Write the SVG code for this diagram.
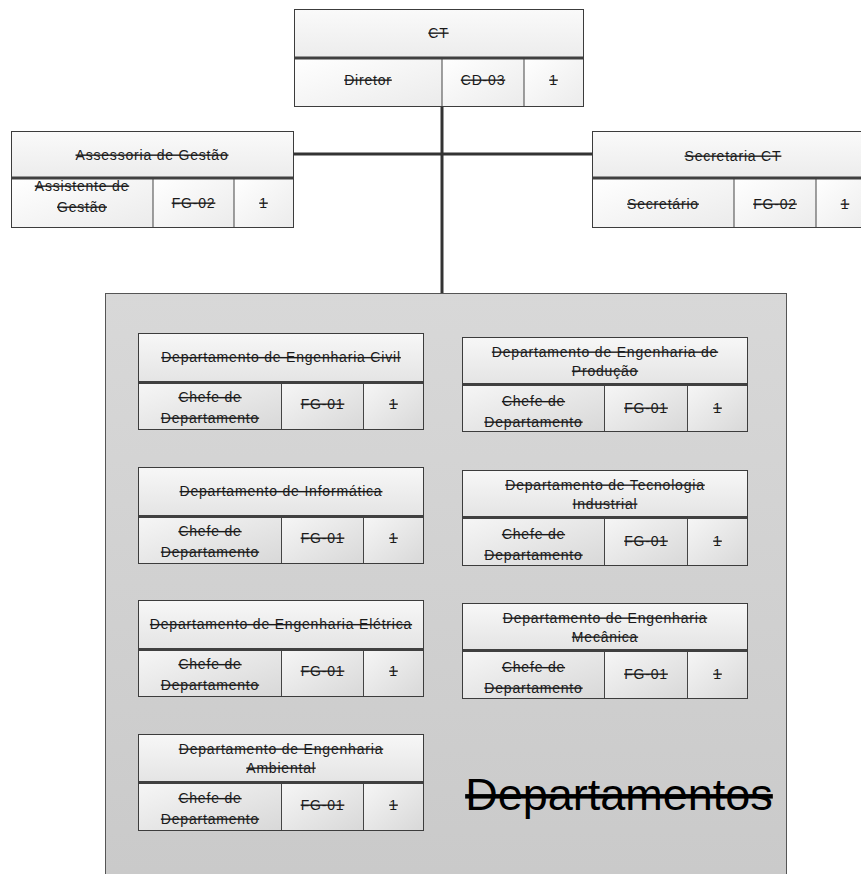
<svg xmlns="http://www.w3.org/2000/svg" width="861" height="874" viewBox="0 0 861 874">
<defs>
<linearGradient id="gCont" x1="0" y1="0" x2="0" y2="1"><stop offset="0" stop-color="#d8d8d8"/><stop offset="1" stop-color="#c9c9c9"/></linearGradient>
<linearGradient id="gHdr" x1="0" y1="0" x2="0" y2="1"><stop offset="0" stop-color="#f7f7f7"/><stop offset="1" stop-color="#e4e4e4"/></linearGradient>
<linearGradient id="gHdrTop" x1="0" y1="0" x2="0" y2="1"><stop offset="0" stop-color="#fafafa"/><stop offset="1" stop-color="#ececec"/></linearGradient>
<linearGradient id="gCell" x1="0" y1="0" x2="1" y2="1"><stop offset="0" stop-color="#f6f6f6"/><stop offset="1" stop-color="#d8d8d8"/></linearGradient>
<linearGradient id="gCellTop" x1="0" y1="0" x2="1" y2="1"><stop offset="0" stop-color="#ffffff"/><stop offset="1" stop-color="#ebebeb"/></linearGradient>
</defs>
<style>
.cont{fill:url(#gCont);stroke:#555;stroke-width:1}
.hdr{fill:url(#gHdr);stroke:none}
.hdrT{fill:url(#gHdrTop);stroke:none}
.cell{fill:url(#gCell);stroke:none}
.cellT{fill:url(#gCellTop);stroke:none}
.frame{fill:none;stroke:#3c3c3c;stroke-width:1}
.div{stroke:#404040;stroke-width:3}
.col{stroke:#444;stroke-width:1}
.conn{stroke:#333;stroke-width:3;fill:none}
.t{font-family:"Liberation Sans",Arial,Helvetica,sans-serif;font-size:14px;letter-spacing:0.8px;fill:#1a1a1a;text-anchor:middle;text-decoration:line-through}
.big{font-family:"Liberation Sans",Arial,Helvetica,sans-serif;font-size:45px;fill:#000;text-anchor:middle;text-decoration:line-through}
</style>

<g id="connectors">
<line class="conn" x1="442" y1="106" x2="442" y2="294"/>
<line class="conn" x1="293" y1="154" x2="593" y2="154"/>
</g>

<g id="departamentos">
<rect class="cont" x="105.5" y="293.5" width="681" height="620"/>
<text class="big" x="619" y="810">Departamentos</text>
</g>

<g id="ct">
<rect class="hdrT" x="294.5" y="9.5" width="289" height="49"/>
<rect class="cellT" x="294.5" y="58" width="147.5" height="48.5"/>
<rect class="cellT" x="442" y="58" width="82" height="48.5"/>
<rect class="cellT" x="524" y="58" width="59.5" height="48.5"/>
<line class="col" x1="442" y1="58" x2="442" y2="106.5"/>
<line class="col" x1="524" y1="58" x2="524" y2="106.5"/>
<line class="div" x1="294.5" y1="58" x2="583.5" y2="58"/>
<rect class="frame" x="294.5" y="9.5" width="289" height="97"/>
<text class="t" x="438.5" y="37.5">CT</text>
<text class="t" x="368" y="84.5">Diretor</text>
<text class="t" x="483" y="84.5">CD-03</text>
<text class="t" x="553.5" y="84.5">1</text>
</g>

<g id="assessoria">
<rect class="hdrT" x="11.5" y="131.5" width="282" height="47"/>
<rect class="cellT" x="11.5" y="178" width="141.5" height="49.5"/>
<rect class="cellT" x="153" y="178" width="81" height="49.5"/>
<rect class="cellT" x="234" y="178" width="59.5" height="49.5"/>
<line class="col" x1="153" y1="178" x2="153" y2="227.5"/>
<line class="col" x1="234" y1="178" x2="234" y2="227.5"/>
<line class="div" x1="11.5" y1="178" x2="293.5" y2="178"/>
<rect class="frame" x="11.5" y="131.5" width="282" height="96"/>
<text class="t" x="152" y="159.5">Assessoria de Gestão</text>
<text class="t" x="82" y="190.5">Assistente de</text>
<text class="t" x="82" y="211.5">Gestão</text>
<text class="t" x="193.5" y="207.5">FG-02</text>
<text class="t" x="263.5" y="207.5">1</text>
</g>

<g id="secretaria">
<rect class="hdrT" x="592.5" y="131.5" width="282" height="47"/>
<rect class="cellT" x="592.5" y="178" width="141.5" height="49.5"/>
<rect class="cellT" x="734" y="178" width="82" height="49.5"/>
<rect class="cellT" x="816" y="178" width="58.5" height="49.5"/>
<line class="col" x1="734" y1="178" x2="734" y2="227.5"/>
<line class="col" x1="816" y1="178" x2="816" y2="227.5"/>
<line class="div" x1="592.5" y1="178" x2="874.5" y2="178"/>
<rect class="frame" x="592.5" y="131.5" width="282" height="96"/>
<text class="t" x="733" y="160.5">Secretaria CT</text>
<text class="t" x="663" y="208.5">Secretário</text>
<text class="t" x="775" y="208.5">FG-02</text>
<text class="t" x="845" y="208.5">1</text>
</g>

<g id="civil">
<rect class="hdr" x="138.5" y="333.5" width="285" height="49"/>
<rect class="cell" x="138.5" y="382.5" width="143" height="47"/>
<rect class="cell" x="281.5" y="382.5" width="82" height="47"/>
<rect class="cell" x="363.5" y="382.5" width="60" height="47"/>
<line class="col" x1="281.5" y1="382.5" x2="281.5" y2="429.5"/>
<line class="col" x1="363.5" y1="382.5" x2="363.5" y2="429.5"/>
<line class="div" x1="138.5" y1="382.5" x2="423.5" y2="382.5"/>
<rect class="frame" x="138.5" y="333.5" width="285" height="96"/>
<text class="t" x="281" y="362">Departamento de Engenharia Civil</text>
<text class="t" x="210" y="402">Chefe de</text>
<text class="t" x="210" y="422.5">Departamento</text>
<text class="t" x="322.5" y="408.5">FG-01</text>
<text class="t" x="393.5" y="408.5">1</text>
</g>

<g id="informatica">
<rect class="hdr" x="138.5" y="467.5" width="285" height="49"/>
<rect class="cell" x="138.5" y="516.5" width="143" height="47"/>
<rect class="cell" x="281.5" y="516.5" width="82" height="47"/>
<rect class="cell" x="363.5" y="516.5" width="60" height="47"/>
<line class="col" x1="281.5" y1="516.5" x2="281.5" y2="563.5"/>
<line class="col" x1="363.5" y1="516.5" x2="363.5" y2="563.5"/>
<line class="div" x1="138.5" y1="516.5" x2="423.5" y2="516.5"/>
<rect class="frame" x="138.5" y="467.5" width="285" height="96"/>
<text class="t" x="281" y="496">Departamento de Informática</text>
<text class="t" x="210" y="536">Chefe de</text>
<text class="t" x="210" y="556.5">Departamento</text>
<text class="t" x="322.5" y="542.5">FG-01</text>
<text class="t" x="393.5" y="542.5">1</text>
</g>

<g id="eletrica">
<rect class="hdr" x="138.5" y="600.5" width="285" height="49"/>
<rect class="cell" x="138.5" y="649.5" width="143" height="47"/>
<rect class="cell" x="281.5" y="649.5" width="82" height="47"/>
<rect class="cell" x="363.5" y="649.5" width="60" height="47"/>
<line class="col" x1="281.5" y1="649.5" x2="281.5" y2="696.5"/>
<line class="col" x1="363.5" y1="649.5" x2="363.5" y2="696.5"/>
<line class="div" x1="138.5" y1="649.5" x2="423.5" y2="649.5"/>
<rect class="frame" x="138.5" y="600.5" width="285" height="96"/>
<text class="t" x="281" y="629">Departamento de Engenharia Elétrica</text>
<text class="t" x="210" y="669">Chefe de</text>
<text class="t" x="210" y="689.5">Departamento</text>
<text class="t" x="322.5" y="675.5">FG-01</text>
<text class="t" x="393.5" y="675.5">1</text>
</g>

<g id="ambiental">
<rect class="hdr" x="138.5" y="734.5" width="285" height="48"/>
<rect class="cell" x="138.5" y="782.5" width="143" height="48"/>
<rect class="cell" x="281.5" y="782.5" width="82" height="48"/>
<rect class="cell" x="363.5" y="782.5" width="60" height="48"/>
<line class="col" x1="281.5" y1="782.5" x2="281.5" y2="830.5"/>
<line class="col" x1="363.5" y1="782.5" x2="363.5" y2="830.5"/>
<line class="div" x1="138.5" y1="782.5" x2="423.5" y2="782.5"/>
<rect class="frame" x="138.5" y="734.5" width="285" height="96"/>
<text class="t" x="281" y="753.5">Departamento de Engenharia</text>
<text class="t" x="281" y="772.5">Ambiental</text>
<text class="t" x="210" y="803">Chefe de</text>
<text class="t" x="210" y="823.5">Departamento</text>
<text class="t" x="322.5" y="809.5">FG-01</text>
<text class="t" x="393.5" y="809.5">1</text>
</g>

<g id="producao">
<rect class="hdr" x="462.5" y="337.5" width="285" height="47"/>
<rect class="cell" x="462.5" y="384.5" width="142" height="47"/>
<rect class="cell" x="604.5" y="384.5" width="83" height="47"/>
<rect class="cell" x="687.5" y="384.5" width="60" height="47"/>
<line class="col" x1="604.5" y1="384.5" x2="604.5" y2="431.5"/>
<line class="col" x1="687.5" y1="384.5" x2="687.5" y2="431.5"/>
<line class="div" x1="462.5" y1="384.5" x2="747.5" y2="384.5"/>
<rect class="frame" x="462.5" y="337.5" width="285" height="94"/>
<text class="t" x="605" y="356.5">Departamento de Engenharia de</text>
<text class="t" x="605" y="375.5">Produção</text>
<text class="t" x="533.5" y="406">Chefe de</text>
<text class="t" x="533.5" y="426.5">Departamento</text>
<text class="t" x="646" y="412.5">FG-01</text>
<text class="t" x="717.5" y="412.5">1</text>
</g>

<g id="tecnologia">
<rect class="hdr" x="462.5" y="470.5" width="285" height="47"/>
<rect class="cell" x="462.5" y="517.5" width="142" height="48"/>
<rect class="cell" x="604.5" y="517.5" width="83" height="48"/>
<rect class="cell" x="687.5" y="517.5" width="60" height="48"/>
<line class="col" x1="604.5" y1="517.5" x2="604.5" y2="565.5"/>
<line class="col" x1="687.5" y1="517.5" x2="687.5" y2="565.5"/>
<line class="div" x1="462.5" y1="517.5" x2="747.5" y2="517.5"/>
<rect class="frame" x="462.5" y="470.5" width="285" height="95"/>
<text class="t" x="605" y="489.5">Departamento de Tecnologia</text>
<text class="t" x="605" y="508.5">Industrial</text>
<text class="t" x="533.5" y="539">Chefe de</text>
<text class="t" x="533.5" y="559.5">Departamento</text>
<text class="t" x="646" y="545.5">FG-01</text>
<text class="t" x="717.5" y="545.5">1</text>
</g>

<g id="mecanica">
<rect class="hdr" x="462.5" y="603.5" width="285" height="47"/>
<rect class="cell" x="462.5" y="650.5" width="142" height="48"/>
<rect class="cell" x="604.5" y="650.5" width="83" height="48"/>
<rect class="cell" x="687.5" y="650.5" width="60" height="48"/>
<line class="col" x1="604.5" y1="650.5" x2="604.5" y2="698.5"/>
<line class="col" x1="687.5" y1="650.5" x2="687.5" y2="698.5"/>
<line class="div" x1="462.5" y1="650.5" x2="747.5" y2="650.5"/>
<rect class="frame" x="462.5" y="603.5" width="285" height="95"/>
<text class="t" x="605" y="622.5">Departamento de Engenharia</text>
<text class="t" x="605" y="641.5">Mecânica</text>
<text class="t" x="533.5" y="672">Chefe de</text>
<text class="t" x="533.5" y="692.5">Departamento</text>
<text class="t" x="646" y="678.5">FG-01</text>
<text class="t" x="717.5" y="678.5">1</text>
</g>
</svg>
